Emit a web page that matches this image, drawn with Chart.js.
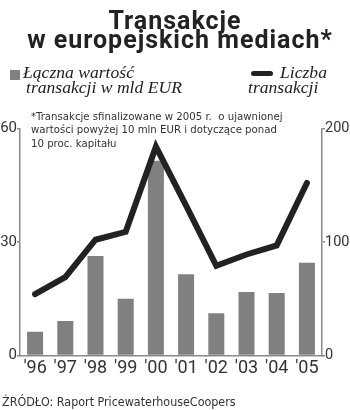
<!DOCTYPE html>
<html><head><meta charset="utf-8">
<script src="https://cdn.jsdelivr.net/npm/chart.js@4"></script>
<style>
html,body{margin:0;padding:0;background:#fff;}
#wrap{position:relative;width:350px;height:410px;overflow:hidden;}
canvas{position:absolute;left:0;top:0;}
.t{position:absolute;white-space:nowrap;color:#222;}
.title{font-family:Roboto;font-weight:bold;font-size:25px;letter-spacing:1px;line-height:19px;left:0;width:350px;text-align:center;}
.leg{font-family:"Liberation Serif";font-style:italic;font-size:17.6px;line-height:15px;}
.note{font-family:"DejaVu Sans Condensed","DejaVu Sans";font-size:11.3px;line-height:13.3px;color:#333;}
</style></head>
<body><div id="wrap">
<canvas id="c" width="350" height="410"></canvas>
<div class="t title" style="top:11px">Transakcje</div>
<div class="t title" style="top:30px;left:5px">w europejskich mediach*</div>
<div style="position:absolute;left:10px;top:70px;width:10px;height:10px;background:#808080"></div>
<div class="t leg" style="left:23px;top:65px">Łączna wartość</div>
<div class="t leg" style="left:26px;top:80px">transakcji w mld EUR</div>
<div style="position:absolute;left:251px;top:71px;width:22px;height:5px;border-radius:3px;background:#222"></div>
<div class="t leg" style="left:280px;top:65px">Liczba</div>
<div class="t leg" style="left:248px;top:80px">transakcji</div>
<div class="t note" style="left:31px;top:110px">*Transakcje sfinalizowane w 2005 r.&nbsp; o ujawnionej<br>wartości powyżej 10 mln EUR i dotyczące ponad<br>10 proc. kapitału</div>
<div class="t note" style="left:2px;top:395px;font-size:12.4px">ŹRÓDŁO: Raport PricewaterhouseCoopers</div>
</div>
<script>
const categories = ["'96","'97","'98","'99","'00","'01","'02","'03","'04","'05"];
const valueBn = [6.3, 9.1, 26.3, 15.0, 51.5, 21.5, 11.2, 16.8, 16.5, 24.5];
const dealCount = [54, 69, 102, 109, 184, 132, 79, 89, 97, 152];
const leftTicks = [0, 30, 60];
const rightTicks = [0, 100, 200];

const axisColor = '#8a8a8a';
new Chart(document.getElementById('c'), {
  data: {
    labels: categories,
    datasets: [
      { type: 'line', data: dealCount, yAxisID: 'yR', borderColor: '#222', borderWidth: 6,
        pointRadius: 0, tension: 0, borderCapStyle: 'round', borderJoinStyle: 'miter', order: 0 },
      { type: 'bar', data: valueBn, yAxisID: 'yL', backgroundColor: '#808080',
        barPercentage: 0.53, categoryPercentage: 1, order: 1 }
    ]
  },
  options: {
    responsive: false, animation: false,
    layout: { padding: { top: 128.5, bottom: 24.5, left: 0, right: 0 } },
    plugins: { legend: { display: false }, tooltip: { enabled: false } },
    scales: {
      x: {
        grid: { display: false, drawTicks: false },
        border: { display: true, color: axisColor, width: 1.5 },
        ticks: { font: { family: 'Roboto', size: 18 }, color: '#333', padding: 2, maxRotation: 0, autoSkip: false },
        afterFit: s => { s.height = 30; }
      },
      yL: {
        position: 'left', min: 0, max: 60,
        afterBuildTicks: s => { s.ticks = leftTicks.map(v => ({ value: v })); },
        grid: { drawOnChartArea: false, drawTicks: true, tickLength: 3, color: axisColor, lineWidth: 1.5 },
        border: { display: true, color: axisColor, width: 1.5 },
        ticks: { font: { family: 'Roboto', size: 15 }, color: '#333', padding: 0 },
        afterFit: s => { s.width = 20; }
      },
      yR: {
        position: 'right', min: 0, max: 200,
        afterBuildTicks: s => { s.ticks = rightTicks.map(v => ({ value: v })); },
        grid: { drawOnChartArea: false, drawTicks: true, tickLength: 3, color: axisColor, lineWidth: 1.5 },
        border: { display: true, color: axisColor, width: 1.5 },
        ticks: { font: { family: 'Roboto', size: 14.5 }, color: '#333', padding: 0 },
        afterFit: s => { s.width = 28; }
      }
    }
  }
});
</script>
</body></html>
